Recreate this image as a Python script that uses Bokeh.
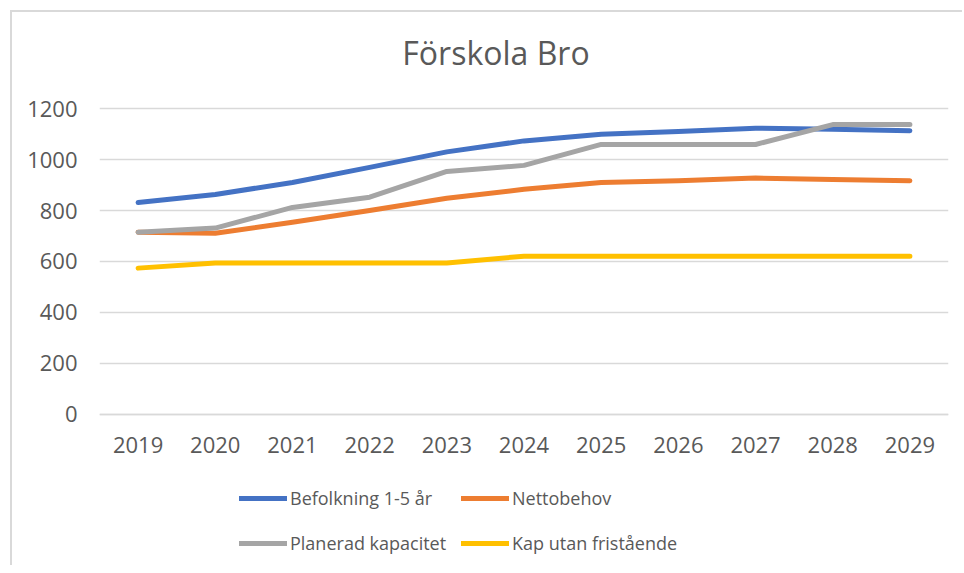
from bokeh.plotting import figure
from bokeh.models import Range1d, FixedTicker, Legend, LegendItem, Label
from bokeh.embed import file_html
from bokeh.resources import INLINE

years = ["2019", "2020", "2021", "2022", "2023", "2024", "2025", "2026", "2027", "2028", "2029"]
befolkning = [831, 863, 910, 969, 1030, 1073, 1099, 1110, 1123, 1119, 1113]
nettobehov = [715, 711, 754, 800, 848, 883, 910, 917, 927, 922, 917]
planerad = [715, 731, 812, 852, 953, 977, 1059, 1059, 1059, 1137, 1137]
kap_utan = [574, 594, 594, 594, 594, 621, 621, 621, 621, 621, 621]
y_ticks = [0, 200, 400, 600, 800, 1000, 1200]

title_text = "Förskola Bro"
names = ["Befolkning 1-5 år", "Nettobehov", "Planerad kapacitet", "Kap utan fristående"]
colors = ["#4472C4", "#ED7D31", "#A5A5A5", "#FFC000"]

FONT = "Open Sans"
TXT = "#595959"

# frame spans the whole chart height so that title and legend sit inside it;
# only 0..1200 carries ticks and gridlines
p = figure(x_range=years, y_range=Range1d(-592.2, 1576.5), frame_width=849, frame_height=553,
           output_backend="svg", toolbar_location=None,
           min_border_left=87, min_border_right=14, min_border_top=0, min_border_bottom=0,
           styles={"margin-left": "10px", "margin-top": "10px",
                   "border-left": "2px solid #D9D9D9", "border-top": "2px solid #D9D9D9"})
p.x_range.range_padding = 0
p.outline_line_color = None
p.background_fill_color = "white"
p.border_fill_color = "white"

p.yaxis.ticker = FixedTicker(ticks=y_ticks)
p.yaxis.axis_line_color = None
p.yaxis.major_tick_line_color = None
p.yaxis.minor_tick_line_color = None
p.yaxis.major_label_standoff = 16
p.xaxis.fixed_location = 0
p.xaxis.axis_line_color = "#D9D9D9"
p.xaxis.axis_line_width = 1.5
p.xaxis.major_tick_line_color = None
p.xaxis.major_label_standoff = 17
for ax in (p.xaxis[0], p.yaxis[0]):
    ax.major_label_text_font = FONT
    ax.major_label_text_font_size = "22px"
    ax.major_label_text_color = TXT

p.xgrid.grid_line_color = None
p.ygrid.grid_line_color = "#D9D9D9"
p.ygrid.grid_line_width = 1.5

series = [befolkning, nettobehov, planerad, kap_utan]
renderers = []
for vals, c in zip(series, colors):
    r = p.line(years, vals, line_color=c, line_width=5, line_cap="round", line_join="round")
    renderers.append(r)

def mk_legend(items, loc):
    lg = Legend(items=items, location=loc, orientation="vertical",
                padding=0, margin=0, spacing=21, glyph_width=48, glyph_height=20,
                label_height=20, label_standoff=3,
                label_text_font=FONT, label_text_font_size="18px", label_text_color=TXT,
                border_line_alpha=0, background_fill_alpha=0)
    p.add_layout(lg, "center")

mk_legend([LegendItem(label=names[0], renderers=[renderers[0]]),
           LegendItem(label=names[2], renderers=[renderers[2]])], (140, 10))
mk_legend([LegendItem(label=names[1], renderers=[renderers[1]]),
           LegendItem(label=names[3], renderers=[renderers[3]])], (362, 10))

p.add_layout(Label(x=5.137, y=1419.6, text=title_text, text_align="center", text_baseline="middle",
                   text_font=FONT, text_font_size="32px", text_color=TXT))

open("out.html", "w").write(file_html(p, INLINE))
